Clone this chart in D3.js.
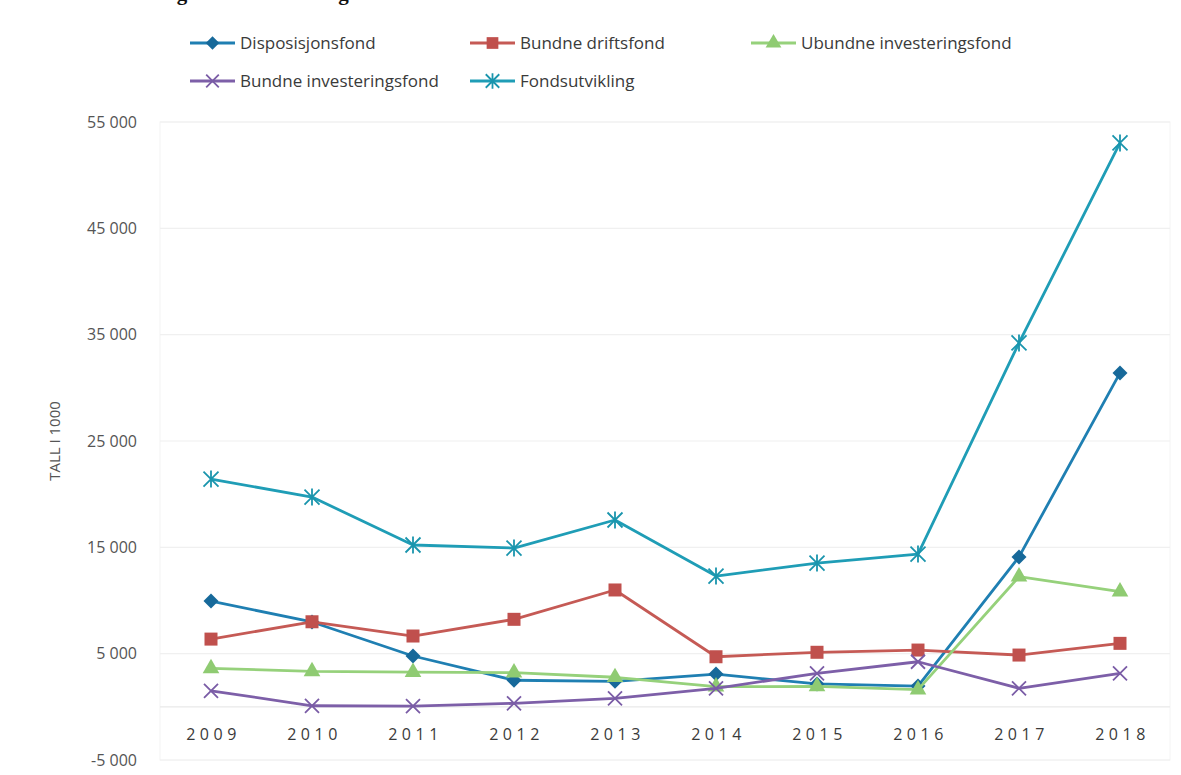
<!DOCTYPE html>
<html>
<head>
<meta charset="utf-8">
<script src="https://cdn.jsdelivr.net/npm/d3@7"></script>
<style>
  html, body { margin: 0; padding: 0; background: #fff; }
  svg text { font-family: "Open Sans", "Noto Sans", sans-serif; }
</style>
</head>
<body>
<div id="chart"></div>
<script>
const years = ["2009", "2010", "2011", "2012", "2013", "2014", "2015", "2016", "2017", "2018"];
const disposisjonsfond = [9950, 7980, 4780, 2500, 2400, 3080, 2150, 1950, 14100, 31400];
const bundneDriftsfond = [6370, 8000, 6660, 8230, 10990, 4710, 5130, 5340, 4870, 5970];
const ubundneInvestering = [3620, 3330, 3260, 3220, 2780, 1900, 1920, 1620, 12240, 10830];
const bundneInvestering = [1510, 100, 75, 330, 800, 1740, 3150, 4240, 1740, 3150];
const fondsutvikling = [21420, 19730, 15220, 14930, 17570, 12300, 13520, 14370, 34220, 53030];
const yTicks = [-5000, 5000, 15000, 25000, 35000, 45000, 55000];

const series = [
  { name: "Disposisjonsfond", values: disposisjonsfond, color: "#1f7fb2", mark: "#17699a", symbol: "diamond" },
  { name: "Bundne driftsfond", values: bundneDriftsfond, color: "#c55a55", mark: "#c0504d", symbol: "square" },
  { name: "Ubundne investeringsfond", values: ubundneInvestering, color: "#96d17b", mark: "#8fcb72", symbol: "triangle" },
  { name: "Bundne investeringsfond", values: bundneInvestering, color: "#7d5fa8", mark: "#7a5ca6", symbol: "cross" },
  { name: "Fondsutvikling", values: fondsutvikling, color: "#1f9db6", mark: "#1a95ad", symbol: "star" }
];

const W = 1181, H = 775;
const svg = d3.select("#chart").append("svg").attr("width", W).attr("height", H);

// title, cut off at the top edge as in the scan
svg.append("text")
  .attr("x", 158).attr("y", 0)
  .attr("font-weight", "bold").attr("font-size", 21).attr("fill", "#111")
  .style("font-family", "'Liberation Serif', serif")
  .text("Fig. 1 Fondsutvikling til 2018");

const x = d3.scalePoint().domain(years).range([211, 1120]);
const y = d3.scaleLinear().domain([-5000, 55000]).range([760, 122]);

// plot frame
svg.append("rect")
  .attr("x", 160).attr("y", 122).attr("width", 1010).attr("height", 638)
  .attr("fill", "none").attr("stroke", "#f4f4f4").attr("stroke-width", 1);

svg.append("g")
  .selectAll("line")
  .data(yTicks.concat([0]))
  .enter().append("line")
  .attr("x1", 160).attr("x2", 1170)
  .attr("y1", d => y(d)).attr("y2", d => y(d))
  .attr("stroke", d => d === 0 ? "#e9e9e9" : "#f0f0f0")
  .attr("stroke-width", 1.2);

const yAxis = svg.append("g")
  .attr("transform", "translate(140,0)")
  .call(d3.axisLeft(y).tickValues(yTicks).tickSize(0)
    .tickFormat(d => d3.format(",")(d).replace(/,/g, " ").replace("\u2212", "-")));
yAxis.select(".domain").remove();
yAxis.selectAll("text")
  .attr("font-size", 16).attr("fill", "#555")
  .style("font-family", "'Open Sans', sans-serif");

const xAxis = svg.append("g")
  .attr("transform", "translate(0,726)")
  .call(d3.axisBottom(x).tickSize(0));
xAxis.select(".domain").remove();
xAxis.selectAll("text")
  .attr("font-size", 16).attr("fill", "#3a3a3a")
  .attr("letter-spacing", "4.5px").attr("dx", "2px")
  .style("font-family", "'Open Sans', sans-serif");

svg.append("text")
  .attr("transform", "translate(60,441) rotate(-90)")
  .attr("text-anchor", "middle")
  .attr("font-size", 15).attr("fill", "#555")
  .text("TALL I 1000");

function drawMarker(g, symbol, color, cx, cy, scale) {
  const s = scale || 1;
  if (symbol === "diamond") {
    const r = 7.5 * s;
    g.append("path")
      .attr("d", `M${cx},${cy - r}L${cx + r},${cy}L${cx},${cy + r}L${cx - r},${cy}Z`)
      .attr("fill", color);
  } else if (symbol === "square") {
    g.append("rect").attr("x", cx - 6.5 * s).attr("y", cy - 6.5 * s)
      .attr("width", 13 * s).attr("height", 13 * s).attr("fill", color);
  } else if (symbol === "triangle") {
    g.append("path").attr("d", d3.symbol().type(d3.symbolTriangle).size(120 * s)())
      .attr("transform", `translate(${cx},${cy})`).attr("fill", color);
  } else if (symbol === "cross") {
    const r = 7 * s;
    g.append("path")
      .attr("d", `M${cx - r},${cy - r}L${cx + r},${cy + r}M${cx - r},${cy + r}L${cx + r},${cy - r}`)
      .attr("stroke", color).attr("stroke-width", 1.8).attr("fill", "none");
  } else if (symbol === "star") {
    const r = 7.5 * s;
    g.append("path")
      .attr("d", `M${cx - r},${cy - r}L${cx + r},${cy + r}M${cx - r},${cy + r}L${cx + r},${cy - r}M${cx},${cy - r - 1}L${cx},${cy + r + 1}`)
      .attr("stroke", color).attr("stroke-width", 1.8).attr("fill", "none");
  }
}

const line = d3.line().x((d, i) => x(years[i])).y(d => y(d));

series.forEach(s => {
  const g = svg.append("g");
  g.append("path").datum(s.values)
    .attr("d", line)
    .attr("fill", "none").attr("stroke", s.color)
    .attr("stroke-width", 2.8).attr("stroke-linejoin", "round");
  s.values.forEach((v, i) => drawMarker(g, s.symbol, s.mark, x(years[i]), y(v)));
});

// legend
const legendPos = [
  { x: 190, y: 43 }, { x: 470, y: 43 }, { x: 751, y: 43 },
  { x: 190, y: 81 }, { x: 470, y: 81 }
];
series.forEach((s, i) => {
  const p = legendPos[i];
  const g = svg.append("g");
  g.append("line").attr("x1", p.x).attr("x2", p.x + 45)
    .attr("y1", p.y).attr("y2", p.y)
    .attr("stroke", s.color).attr("stroke-width", 2.8);
  drawMarker(g, s.symbol, s.mark, p.x + 22.5, p.y, 0.9);
  g.append("text").attr("x", p.x + 50).attr("y", p.y + 6)
    .attr("font-size", 17).attr("fill", "#3a3a3a")
    .text(s.name);
});
</script>
</body>
</html>
